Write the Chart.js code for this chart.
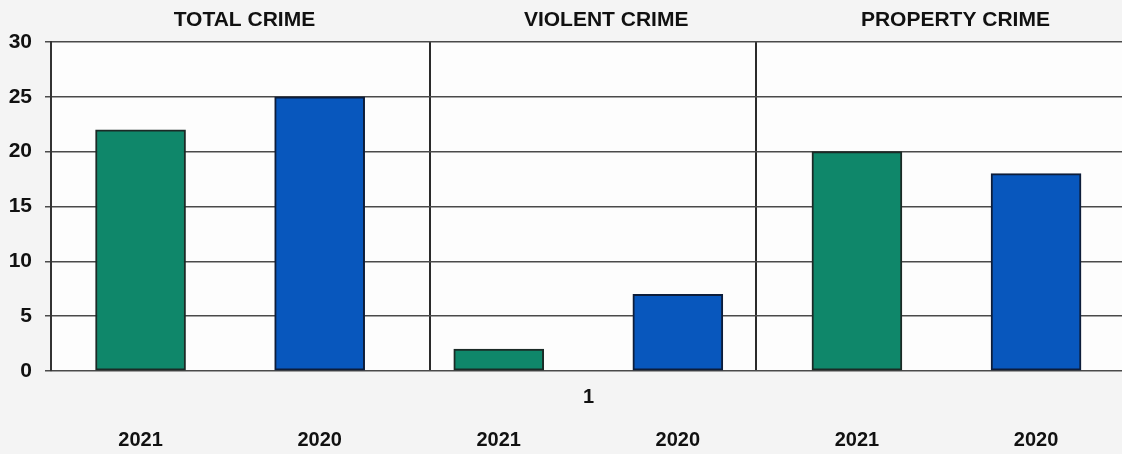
<!DOCTYPE html>
<html>
<head>
<meta charset="utf-8">
<script src="https://cdn.jsdelivr.net/npm/chart.js@4.4.1/dist/chart.umd.min.js"></script>
<style>
  html, body { margin: 0; padding: 0; background: #f4f4f4; }
  #wrap { width: 1122px; height: 454px; position: relative; }
</style>
</head>
<body>
<div id="wrap"><canvas id="c" width="1122" height="454"></canvas></div>
<script>
// ---- data ----
const categories = ['TOTAL CRIME', 'VIOLENT CRIME', 'PROPERTY CRIME'];
const years = ['2021', '2020'];
const values2021 = [22, 2, 20];
const values2020 = [25, 7, 18];
const yTicks = [0, 5, 10, 15, 20, 25, 30];
const axisLabel = '1';

// ---- layout/style helpers ----
const FONT = '"Liberation Sans", Arial, sans-serif';
const titlePos = [0.58, 2.6, 4.55];     // where panel titles sit on the x scale
const dividerPos = [1.614, 3.439];       // panel separator lines on the x scale

const pts2021 = values2021.map((v, i) => ({ x: 2 * i, y: v }));
const pts2020 = values2020.map((v, i) => ({ x: 2 * i + 1, y: v }));
const barLabels = [];
categories.forEach(() => years.forEach(y => barLabels.push(y)));

const bgPlugin = {
  id: 'bg',
  beforeDraw(chart) {
    const { ctx, chartArea: a } = chart;
    ctx.save();
    ctx.fillStyle = '#fdfdfd';
    ctx.fillRect(a.left, a.top, a.right - a.left, a.bottom - a.top);
    ctx.restore();
  }
};

const textPlugin = {
  id: 'texts',
  afterDraw(chart) {
    const { ctx, chartArea: a } = chart;
    const xs = chart.scales.x;
    ctx.save();
    ctx.fillStyle = '#111';
    ctx.textAlign = 'center';
    ctx.textBaseline = 'middle';
    ctx.font = 'bold 21px ' + FONT;
    categories.forEach((c, i) => {
      ctx.fillText(c, xs.getPixelForValue(titlePos[i]), 20);
    });
    ctx.font = 'bold 20px ' + FONT;
    ctx.fillText(axisLabel, (a.left + a.right) / 2 + 2, 397);
    ctx.restore();
  }
};

new Chart(document.getElementById('c'), {
  type: 'bar',
  data: {
    datasets: [
      { label: years[0], data: pts2021, backgroundColor: '#0f876a', borderColor: '#1b2a26', borderWidth: 2, borderSkipped: false, barThickness: 90, grouped: false },
      { label: years[1], data: pts2020, backgroundColor: '#0857bd', borderColor: '#0d1d3a', borderWidth: 2, borderSkipped: false, barThickness: 90, grouped: false }
    ]
  },
  options: {
    responsive: false,
    animation: false,
    layout: { padding: { top: 42, right: 0, left: 0, bottom: 0 } },
    plugins: { legend: { display: false }, tooltip: { enabled: false } },
    scales: {
      x: {
        type: 'linear',
        min: -0.5,
        max: 5.48,
        offset: false,
        position: 'bottom',
        afterBuildTicks(scale) { scale.ticks = barLabels.map((_, i) => ({ value: i })); },
        afterFit(scale) { scale.height = 83; },
        grid: { display: false, drawTicks: false, offset: false },
        border: { display: false },
        ticks: {
          autoSkip: false,
          maxRotation: 0,
          padding: 57,
          color: '#111',
          font: { family: FONT, size: 20, weight: 'bold' },
          callback: (v) => barLabels[v] !== undefined ? barLabels[v] : ''
        }
      },
      x2: {
        type: 'linear',
        min: -0.5,
        max: 5.48,
        offset: false,
        position: 'bottom',
        afterBuildTicks(scale) { scale.ticks = dividerPos.map(v => ({ value: v })); },
        afterFit(scale) { scale.height = 0; },
        grid: { display: true, drawTicks: false, offset: false, color: '#2a2a2a', lineWidth: 2 },
        border: { display: false },
        ticks: { display: false }
      },
      y: {
        min: 0,
        max: 30,
        afterBuildTicks(scale) { scale.ticks = yTicks.map(v => ({ value: v })); },
        afterFit(scale) { scale.width = 51; },
        grid: { color: '#4a4a4a', lineWidth: 1.5, tickLength: 6, tickColor: '#4a4a4a' },
        border: { display: true, color: '#333', width: 2 },
        ticks: {
          padding: 13,
          color: '#111',
          font: { family: FONT, size: 21, weight: 'bold' }
        }
      }
    }
  },
  plugins: [bgPlugin, textPlugin]
});
</script>
</body>
</html>
